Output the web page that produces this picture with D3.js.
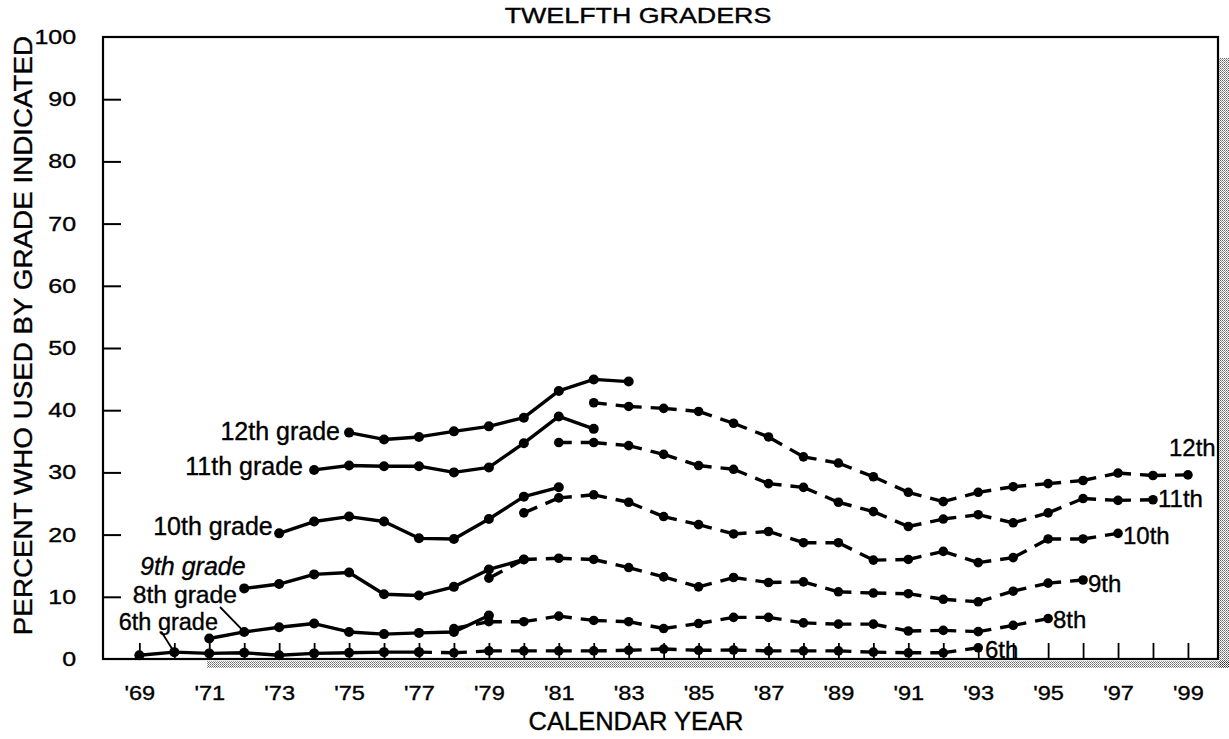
<!DOCTYPE html>
<html>
<head>
<meta charset="utf-8">
<script src="https://cdn.jsdelivr.net/npm/d3@7"></script>
<style>
  html, body { margin: 0; padding: 0; background: #fff; }
  svg { display: block; }
  text { font-family: "Liberation Sans", Arial, Helvetica, sans-serif; fill: #000; stroke: #000; stroke-width: 0.35px; }
</style>
</head>
<body>
<svg id="chart" width="1229" height="739"></svg>
<script>
// ---- data -------------------------------------------------------------
const grades = ["6th", "8th", "9th", "10th", "11th", "12th"];

// first year of each retrospective (solid) and annual (dashed) series
const earlyStart = [1969, 1971, 1972, 1973, 1974, 1975];
const lateStart  = [1977, 1978, 1979, 1980, 1981, 1982];

// solid: recalled use by grade, from earlier senior classes
const early6th  = [0.6, 1.1, 0.9, 1.0, 0.6, 0.9, 1.0, 1.1, 1.1];
const early8th  = [3.3, 4.35, 5.1, 5.7, 4.35, 4.0, 4.2, 4.35, 7.0];
const early9th  = [11.35, 12.05, 13.6, 13.9, 10.4, 10.2, 11.6, 14.4, 16.0];
const early10th = [20.2, 22.1, 22.9, 22.1, 19.4, 19.3, 22.5, 26.1, 27.6];
const early11th = [30.4, 31.1, 31.0, 31.0, 30.0, 30.8, 34.7, 39.0, 37.0];
const early12th = [36.4, 35.3, 35.7, 36.6, 37.4, 38.8, 43.1, 44.95, 44.6];

// dashed: later senior classes
const late6th  = [1.1, 1.0, 1.3, 1.3, 1.3, 1.3, 1.4, 1.6, 1.4, 1.45, 1.3, 1.3, 1.3, 1.1, 1.0, 1.0, 1.8];
const late8th  = [4.9, 6.0, 6.0, 6.9, 6.2, 6.0, 4.9, 5.7, 6.7, 6.7, 5.8, 5.6, 5.6, 4.5, 4.6, 4.4, 5.4, 6.5];
const late9th  = [13.0, 16.0, 16.2, 16.0, 14.7, 13.2, 11.6, 13.1, 12.3, 12.4, 10.8, 10.6, 10.5, 9.6, 9.2, 10.9, 12.2, 12.7];
const late10th = [23.5, 25.9, 26.4, 25.2, 22.9, 21.6, 20.1, 20.5, 18.7, 18.7, 15.9, 16.0, 17.3, 15.5, 16.3, 19.3, 19.3, 20.2];
const late11th = [34.8, 34.8, 34.3, 32.9, 31.1, 30.5, 28.2, 27.6, 25.2, 23.7, 21.3, 22.5, 23.2, 21.9, 23.5, 25.8, 25.5, 25.6];
const late12th = [41.2, 40.6, 40.3, 39.8, 37.9, 35.7, 32.5, 31.5, 29.3, 26.8, 25.3, 26.8, 27.7, 28.2, 28.7, 29.9, 29.5, 29.6];

const tickYears = d3.range(1969, 2000);
const yTicks = [0, 10, 20, 30, 40, 50, 60, 70, 80, 90, 100];

const titleText = "TWELFTH GRADERS";
const xTitle = "CALENDAR YEAR";
const yTitle = "PERCENT WHO USED BY GRADE INDICATED";
const leftLabels = ["6th grade", "8th grade", "9th grade", "10th grade", "11th grade", "12th grade"];
const rightLabels = ["6th", "8th", "9th", "10th", "11th", "12th"];

// ---- layout -----------------------------------------------------------
const svg = d3.select("#chart");
const L = 103, R = 1218, T = 37, B = 659;

const x = d3.scaleLinear().domain([1967.96, 1999.86]).range([L, R]);
const y = d3.scaleLinear().domain([0, 100]).range([B, T]);

const toSeries = (start, vals) => vals.map((v, i) => ({ year: start + i, value: v }));
const earlyVals = [early6th, early8th, early9th, early10th, early11th, early12th];
const lateVals  = [late6th, late8th, late9th, late10th, late11th, late12th];
const early = earlyVals.map((v, i) => toSeries(earlyStart[i], v));
const late  = lateVals.map((v, i) => toSeries(lateStart[i], v));

// stippled shadow along the bottom and right of the frame
const defs = svg.append("defs");
const pat = defs.append("pattern").attr("id", "stipple")
  .attr("width", 2).attr("height", 2).attr("patternUnits", "userSpaceOnUse");
pat.append("rect").attr("width", 1).attr("height", 1).attr("fill", "#000").attr("fill-opacity", 0.6);
pat.append("rect").attr("x", 1).attr("y", 1).attr("width", 1).attr("height", 1).attr("fill", "#000").attr("fill-opacity", 0.4);
svg.append("rect").attr("x", 207).attr("y", B + 2).attr("width", 1229 - 207).attr("height", 7).attr("fill", "url(#stipple)");
svg.append("rect").attr("x", R + 1).attr("y", 58).attr("width", 1229 - R - 1).attr("height", B + 9 - 58).attr("fill", "url(#stipple)");

// text helper with horizontal stretch
function label(x0, y0, s, size, opts = {}) {
  const sx = opts.sx || 1;
  const t = svg.append("text")
    .attr("transform", `translate(${x0},${y0}) scale(${sx},1)`)
    .attr("text-anchor", opts.anchor || "start")
    .style("font-size", size + "px")
    .text(s);
  if (opts.italic) t.style("font-style", "italic");
  return t;
}

// frame
svg.append("rect").attr("x", L).attr("y", T).attr("width", R - L).attr("height", B - T)
  .attr("fill", "none").attr("stroke", "#000").attr("stroke-width", 2.2);

// y axis (inward ticks)
const yAxis = svg.append("g").attr("transform", `translate(${L},0)`)
  .call(d3.axisLeft(y).tickValues(yTicks).tickSizeInner(-18).tickSizeOuter(0).tickPadding(22));
yAxis.select(".domain").remove();
yAxis.selectAll(".tick line").attr("stroke", "#000").attr("stroke-width", 2);
yAxis.selectAll(".tick text")
  .attr("transform", "scale(1.22,1)")
  .style("font-size", "20.5px")
  .style("font-family", '"Liberation Sans", Arial, sans-serif');
yAxis.selectAll(".tick").filter(d => d === 0 || d === 100).select("line").remove();

// x axis (inward ticks every year, labels on odd years)
const xAxis = svg.append("g").attr("transform", `translate(0,${B})`)
  .call(d3.axisBottom(x).tickValues(tickYears).tickSizeInner(-16).tickSizeOuter(0).tickPadding(26)
    .tickFormat(d => d % 2 === 1 ? "'" + String(d).slice(2) : ""));
xAxis.select(".domain").remove();
xAxis.selectAll(".tick line").attr("stroke", "#000").attr("stroke-width", 1.8);
xAxis.selectAll(".tick text")
  .attr("transform", "scale(1.15,1)")
  .style("font-size", "20.5px")
  .style("font-family", '"Liberation Sans", Arial, sans-serif');

// solid series
const line = d3.line().x(d => x(d.year)).y(d => y(d.value));
early.forEach(s => {
  svg.append("path").datum(s).attr("d", line)
    .attr("fill", "none").attr("stroke", "#000").attr("stroke-width", 3.4)
    .attr("stroke-linejoin", "round");
  svg.append("g").selectAll("circle").data(s).join("circle")
    .attr("cx", d => x(d.year)).attr("cy", d => y(d.value)).attr("r", 5).attr("fill", "#000");
});

// dashed series: each segment solid at both ends with a gap in the middle
const GAP = 9;
late.forEach(s => {
  const g = svg.append("g");
  d3.pairs(s).forEach(([a, b]) => {
    const x1 = x(a.year), y1 = y(a.value), x2 = x(b.year), y2 = y(b.value);
    const len = Math.hypot(x2 - x1, y2 - y1);
    const half = (len - GAP) / 2;
    g.append("path").attr("d", `M${x1},${y1}L${x2},${y2}`)
      .attr("fill", "none").attr("stroke", "#000").attr("stroke-width", 3.4)
      .attr("stroke-dasharray", `${half},${GAP},${half + 1}`);
  });
  g.selectAll("circle").data(s).join("circle")
    .attr("cx", d => x(d.year)).attr("cy", d => y(d.value)).attr("r", 4.8).attr("fill", "#000");
});

// titles
label(638, 23, titleText, 22, { anchor: "middle", sx: 1.22 });
label(636, 730, xTitle, 25.5, { anchor: "middle" });
svg.append("text")
  .attr("transform", "translate(31.5,335.5) rotate(-90) scale(1.07,1)")
  .attr("text-anchor", "middle")
  .style("font-size", "26px")
  .text(yTitle);

// left-hand grade labels
label(218, 629.5, leftLabels[0], 23.5, { anchor: "end" });
label(237, 603, leftLabels[1], 23.5, { anchor: "end", sx: 1.05 });
label(140, 575, leftLabels[2], 25, { italic: true });
label(272.7, 534.5, leftLabels[3], 25, { anchor: "end" });
label(303, 475, leftLabels[4], 25, { anchor: "end" });
label(340, 440, leftLabels[5], 25, { anchor: "end" });

// leader lines from labels to their first points
const leader = (x1, y1, x2, y2) => svg.append("line")
  .attr("x1", x1).attr("y1", y1).attr("x2", x2).attr("y2", y2)
  .attr("stroke", "#000").attr("stroke-width", 1.8);
leader(161.5, 632, x(early[0][1].year), y(early[0][1].value));
leader(220, 607, x(early[1][1].year), y(early[1][1].value));

// right-hand end labels
const rightPos = [[985, 658], [1053, 628.3], [1088, 592], [1123, 543.5], [1158, 507], [1169, 456]];
rightLabels.forEach((t, i) => label(rightPos[i][0], rightPos[i][1], t, 24));
</script>
</body>
</html>
